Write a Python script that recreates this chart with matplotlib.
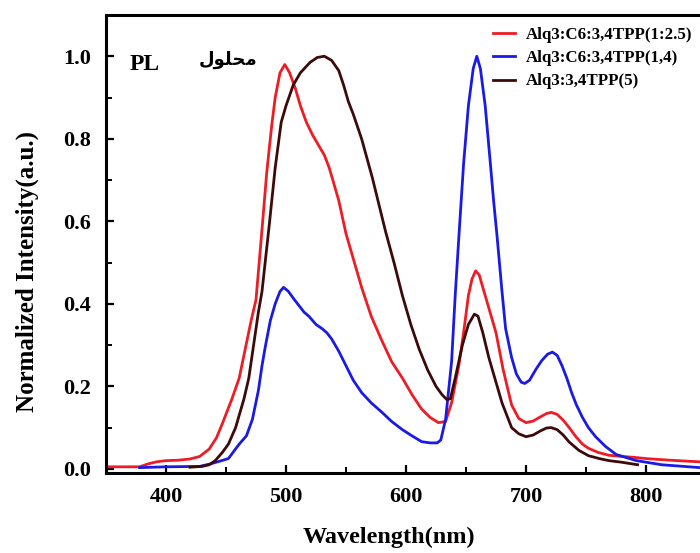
import matplotlib
matplotlib.use("Agg")
import matplotlib.pyplot as plt
from matplotlib.ticker import MultipleLocator

# ---- data ----
red_wl = [350, 378, 385, 392, 400, 410, 420, 428, 436, 442, 447, 451, 455, 461, 466, 471, 475, 480, 484, 488,
          491, 495, 499, 503, 508, 512, 517, 522, 527, 532, 536, 540, 544, 550, 556, 563, 571, 580, 588, 597,
          605, 613, 620, 627, 633, 638, 644, 648, 652, 655, 658, 661, 665, 670, 675, 681, 688, 694, 700, 706,
          712, 717, 721, 726, 731, 736, 741, 747, 752, 760, 769, 780, 790, 800, 820, 845]
red_val = [0.005, 0.005, 0.012, 0.017, 0.020, 0.021, 0.024, 0.030, 0.048, 0.075, 0.11, 0.14, 0.17, 0.22, 0.29,
           0.36, 0.41, 0.58, 0.72, 0.83, 0.90, 0.96, 0.98, 0.96, 0.92, 0.88, 0.84, 0.81, 0.785, 0.76, 0.73,
           0.69, 0.65, 0.57, 0.51, 0.44, 0.37, 0.31, 0.26, 0.22, 0.18, 0.145, 0.125, 0.112, 0.115, 0.16, 0.25,
           0.33, 0.42, 0.46, 0.48, 0.47, 0.43, 0.38, 0.33, 0.24, 0.155, 0.122, 0.112, 0.116, 0.126, 0.134,
           0.137, 0.132, 0.118, 0.10, 0.08, 0.06, 0.05, 0.04, 0.033, 0.030, 0.028, 0.025, 0.021, 0.017]

blue_wl = [378, 400, 428, 437, 444, 452, 461, 467, 472, 477, 480, 483, 487, 491, 495, 498, 502, 507, 511, 515,
           519, 525, 530, 534, 538, 544, 550, 556, 563, 571, 580, 588, 597, 605, 613, 620, 626, 629, 633, 638,
           641, 644, 648, 652, 656, 659, 662, 666, 670, 673, 676, 680, 683, 688, 692, 696, 699, 703, 708, 713,
           718, 722, 726, 730, 734, 738, 742, 747, 752, 758, 766, 775, 792, 813, 845]
blue_val = [0.003, 0.005, 0.006, 0.012, 0.018, 0.025, 0.06, 0.08, 0.12, 0.19, 0.25, 0.30, 0.36, 0.40, 0.43,
            0.44, 0.43, 0.41, 0.395, 0.38, 0.37, 0.35, 0.34, 0.33, 0.315, 0.285, 0.25, 0.215, 0.185, 0.16,
            0.137, 0.115, 0.095, 0.08, 0.066, 0.063, 0.063, 0.07, 0.12, 0.26, 0.42, 0.56, 0.74, 0.88, 0.97,
            1.0, 0.97, 0.88, 0.75, 0.65, 0.56, 0.43, 0.34, 0.27, 0.23, 0.21, 0.207, 0.215, 0.24, 0.262, 0.278,
            0.283, 0.275, 0.25, 0.22, 0.185, 0.155, 0.125, 0.10, 0.078, 0.055, 0.035, 0.02, 0.01, 0.003]

dark_wl = [420, 430, 436, 441, 447, 452, 458, 462, 465, 469, 473, 477, 480, 483, 486, 491, 496, 500, 506, 512,
           520, 526, 532, 538, 544, 548, 552, 556, 563, 572, 583, 590, 597, 604, 611, 618, 625, 630, 634, 637,
           641, 647, 652, 657, 660, 664, 669, 675, 680, 688, 694, 700, 706, 712, 717, 721, 726, 731, 736, 744,
           752, 761, 769, 780, 793]
dark_val = [0.004, 0.006, 0.01, 0.02, 0.04, 0.06, 0.10, 0.14, 0.17, 0.22, 0.30, 0.38, 0.43, 0.51, 0.59, 0.73,
            0.84, 0.88, 0.93, 0.96, 0.985, 0.997, 1.0, 0.99, 0.965, 0.93, 0.89, 0.86, 0.80, 0.705, 0.575, 0.50,
            0.42, 0.35, 0.29, 0.24, 0.20, 0.18, 0.168, 0.17, 0.22, 0.30, 0.35, 0.375, 0.37, 0.33, 0.27, 0.21,
            0.16, 0.10, 0.085, 0.078, 0.082, 0.092, 0.099, 0.10, 0.095, 0.082, 0.065, 0.045, 0.032, 0.025,
            0.02, 0.016, 0.01]

labels = ["Alq3:C6:3,4TPP(1:2.5)", "Alq3:C6:3,4TPP(1,4)", "Alq3:3,4TPP(5)"]
colors = ["#ee1c24", "#1a1ae6", "#3d0a0a"]
x_ticks = [400, 500, 600, 700, 800]
y_ticks = [0.0, 0.2, 0.4, 0.6, 0.8, 1.0]

serif = ["Liberation Serif", "DejaVu Serif"]

fig = plt.figure(figsize=(7.0, 5.53), dpi=100)
ax = fig.add_axes([106/700, 80/553, 594/700, 458/553])

ax.plot(red_wl, red_val, color=colors[0], lw=2.0, label=labels[0])
ax.plot(blue_wl, blue_val, color=colors[1], lw=2.0, label=labels[1])
ax.plot(dark_wl, dark_val, color=colors[2], lw=2.0, label=labels[2])

ax.set_xlim(350, 845)
ax.set_ylim(-0.01, 1.10)
ax.set_xticks(x_ticks)
ax.set_yticks(y_ticks)
ax.set_yticklabels([f"{v:.1f}" for v in y_ticks])
ax.xaxis.set_minor_locator(MultipleLocator(50))
ax.yaxis.set_minor_locator(MultipleLocator(0.1))
ax.tick_params(which="major", direction="in", length=6, width=1.6)
ax.tick_params(axis="y", which="major", pad=11)
ax.tick_params(axis="x", which="major", pad=10)
ax.tick_params(which="minor", direction="in", length=4, width=1.4)
for lbl in ax.get_xticklabels() + ax.get_yticklabels():
    lbl.set_family(serif)
    lbl.set_fontweight("bold")
    lbl.set_fontsize(16)

for side in ["left", "bottom", "top"]:
    ax.spines[side].set_linewidth(2.2)
ax.spines["right"].set_visible(False)

ax.set_xlabel("Wavelength(nm)", family=serif, fontweight="bold", fontsize=17.5)
ax.xaxis.set_label_coords(0.476, -0.118)
ax.set_ylabel("Normalized Intensity(a.u.)", family=serif, fontweight="bold", fontsize=18)
ax.yaxis.set_label_coords(-0.112, 0.44)

fig.text(130/700, 1 - 65/553, "PL", family=serif, fontweight="bold", fontsize=17, va="center", ha="left")
# Arabic "محلول" in presentation forms (visual order) so it renders joined
fig.text(199/700, 1 - 60/553, "\uFEDD\uFEEE\uFEE0\uFEA4\uFEE3", family=["DejaVu Sans"],
         fontweight="bold", fontsize=13, va="center", ha="left")

leg = ax.legend(loc="upper left", bbox_to_anchor=(478/700, 1 - 12/553), bbox_transform=fig.transFigure,
                frameon=False, handlelength=1.3, handletextpad=0.6, labelspacing=0.42,
                prop={"family": serif, "weight": "bold", "size": 12.2})

fig.savefig("out.png", dpi=100)
